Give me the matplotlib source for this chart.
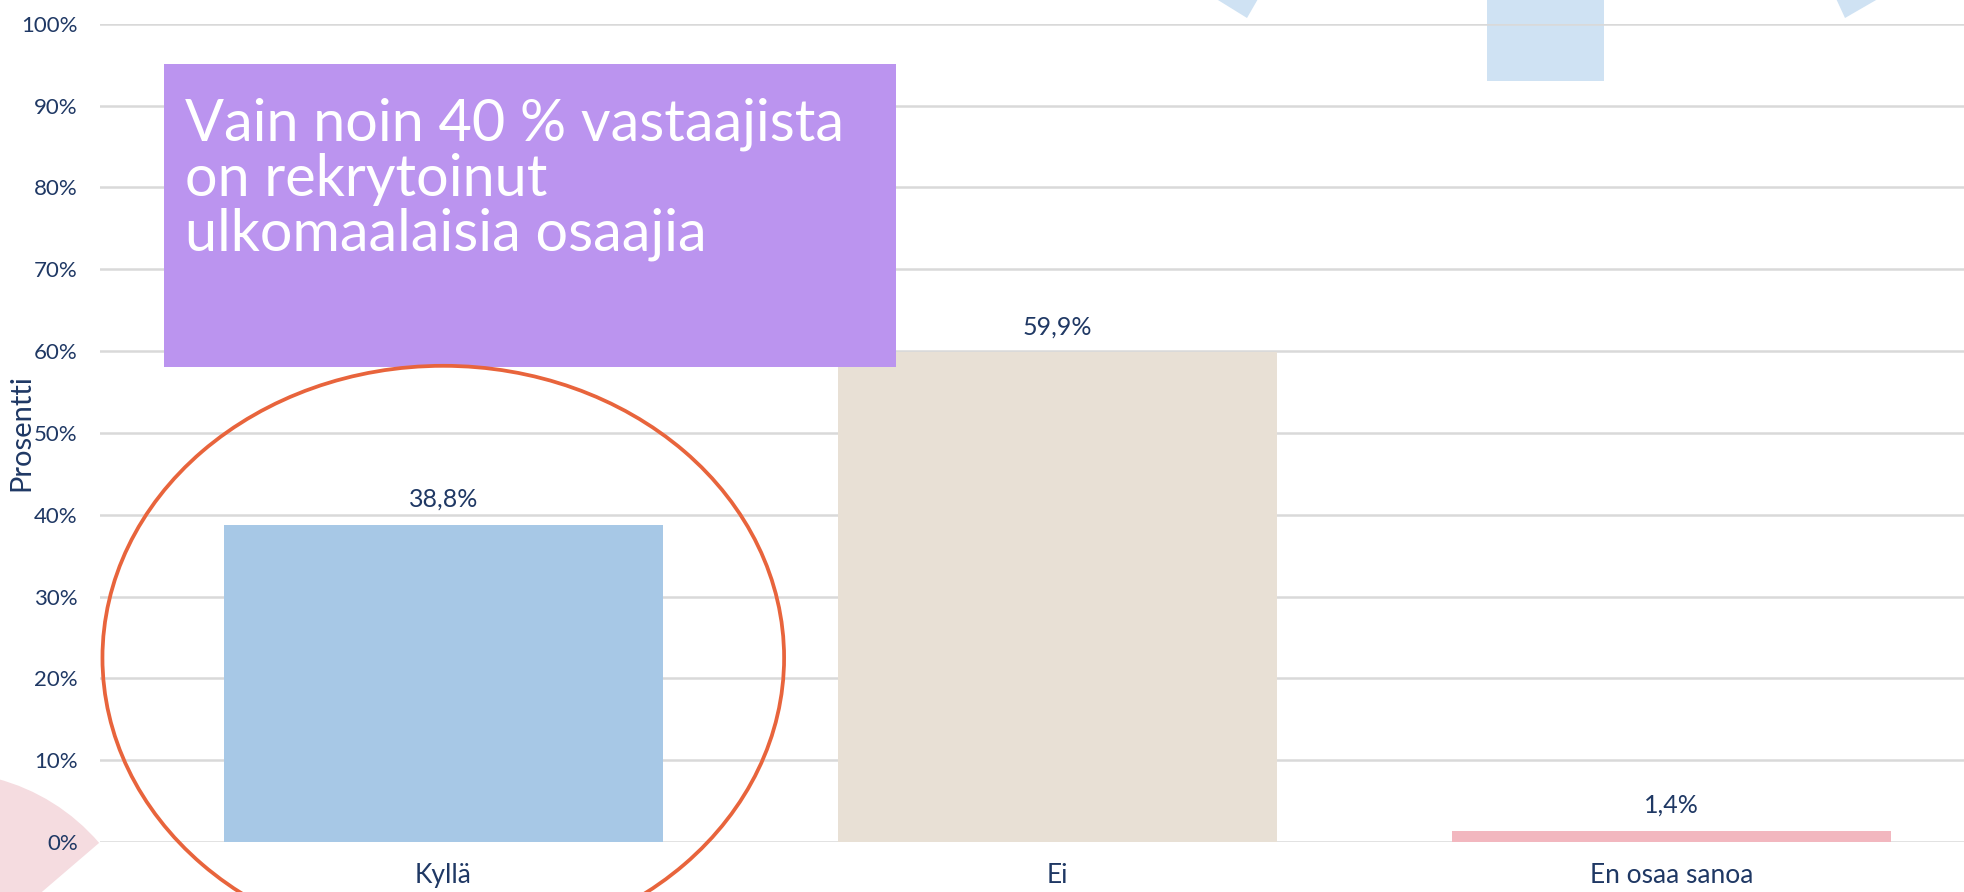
import numpy as np
import matplotlib
matplotlib.use("Agg")
import matplotlib.pyplot as plt
from matplotlib.patches import Rectangle, Ellipse, Wedge, Polygon
from matplotlib.transforms import Affine2D

# Data
kategoriat = ["Kyllä", "Ei", "En osaa sanoa"]
osuudet = [38.8, 59.9, 1.4]
arvo_tekstit = ["38,8%", "59,9%", "1,4%"]
y_tikit = [0, 10, 20, 30, 40, 50, 60, 70, 80, 90, 100]
otsikko = "Vain noin 40 % vastaajista\non rekrytoinut\nulkomaalaisia osaajia"

varit = ["#A7C8E6", "#E8E0D5", "#F2B7BF"]
tekstivari = "#1F3864"

plt.rcParams["font.family"] = ["Lato", "DejaVu Sans"]

W, H = 1965, 892
fig = plt.figure(figsize=(W / 100, H / 100), dpi=100)
fig.patch.set_facecolor("white")

# Koristekuviot taustalla (pikselit, y ylöspäin)
px = Affine2D().scale(1 / W, 1 / H) + fig.transFigure
fig.add_artist(Wedge((-55, -83), 203, 40.6, 110, transform=px,
                     facecolor="#F5DCE0", edgecolor="none", zorder=0))
fig.add_artist(Rectangle((1487, 811), 117, 90, transform=px,
                         facecolor="#CFE2F3", edgecolor="none", zorder=0))
fig.add_artist(Polygon([(1205, 900), (1262, 900), (1247, 874)], transform=px,
                       facecolor="#CFE2F3", edgecolor="none", zorder=0))
fig.add_artist(Polygon([(1833, 900), (1890, 900), (1845, 874)], transform=px,
                       facecolor="#CFE2F3", edgecolor="none", zorder=0))

ax = fig.add_axes([100 / W, 50 / H, 1 - 100 / W, (842 - 23.8) / H])
ax.set_zorder(2)
ax.patch.set_alpha(0)

x = np.arange(len(kategoriat))
palkit = ax.bar(x, osuudet, width=0.714, color=varit, zorder=2)

for p, t in zip(palkit, arvo_tekstit):
    ax.annotate(t, (p.get_x() + p.get_width() / 2, p.get_height()),
                xytext=(0, 18), textcoords="offset points",
                ha="center", va="center", fontsize=18, color=tekstivari)

ax.set_xlim(-0.559, 2.478)
ax.set_ylim(0, 100)
ax.set_yticks(y_tikit)
ax.set_yticklabels([f"{v}%" for v in y_tikit])
ax.set_xticks(x)
ax.set_xticklabels(kategoriat)
ax.tick_params(axis="y", length=0, pad=16, labelsize=16, labelcolor=tekstivari)
ax.tick_params(axis="x", length=0, pad=15, labelsize=19, labelcolor=tekstivari)
ax.grid(axis="y", color="#D9D9D9", linewidth=1.8, zorder=0)
ax.set_axisbelow(True)
for s in ax.spines.values():
    s.set_visible(False)
ax.set_ylabel("Prosentti", fontsize=21, color=tekstivari)
ax.yaxis.set_label_coords(-0.035, 0.5)

# Tekstilaatikko
ax.add_patch(Rectangle((-0.455, 58.0), 1.192, 37.1, facecolor="#BB94EF",
                       edgecolor="none", zorder=3))
ax.text(-0.42, 81.0, otsikko, ha="left", va="center", fontsize=41.5,
        fontweight="normal", color="white", linespacing=1.05, zorder=4)

# Korostusympyrä
ax.add_patch(Ellipse((0, 22.5), 1.11, 71.4, fill=False, edgecolor="#E8643C",
                     linewidth=2.7, zorder=5, clip_on=False))

fig.savefig("out.png", dpi=100)
